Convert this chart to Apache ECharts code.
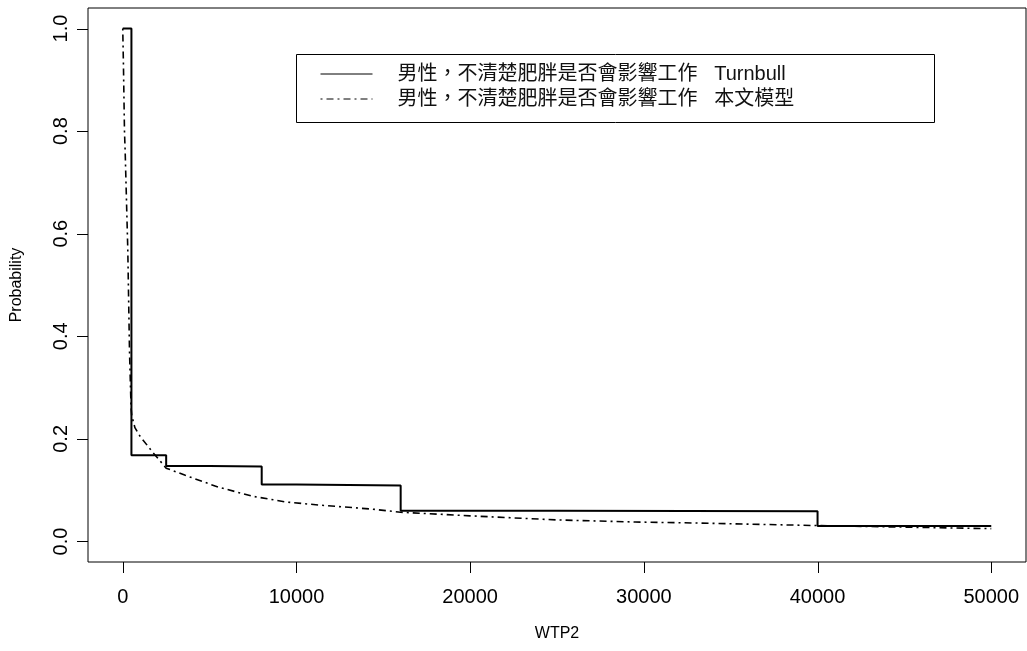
<!DOCTYPE html>
<html>
<head>
<meta charset="utf-8">
<script src="https://cdn.jsdelivr.net/npm/echarts@6/dist/echarts.min.js"></script>
<style>
html,body{margin:0;padding:0;background:#fff;}
#chart{width:1027px;height:651px;}
</style>
</head>
<body>
<div id="chart"></div>
<script>
// ---- data ----
var xTicks = [0, 10000, 20000, 30000, 40000, 50000];
var yTicks = [0, 0.2, 0.4, 0.6, 0.8, 1.0];

var turnbullName = '男性，不清楚肥胖是否會影響工作   Turnbull';
var turnbullX = [0, 500, 2500, 5000, 8000, 10000, 16000, 25000, 40000, 50000];
var turnbullY = [1.0, 0.168, 0.147, 0.146, 0.111, 0.109, 0.060, 0.059, 0.030, 0.030];

var modelName = '男性，不清楚肥胖是否會影響工作   本文模型';
var modelX = [0, 40, 100, 140, 290, 390, 480, 520, 700, 1000, 1700, 2500, 3600, 5500, 7500, 9400, 11300, 14400, 16000, 20000, 25000, 29500, 33000, 40000, 50000];
var modelY = [1.0, 0.93, 0.80, 0.76, 0.57, 0.37, 0.26, 0.245, 0.222, 0.205, 0.175, 0.143, 0.129, 0.106, 0.088, 0.077, 0.071, 0.063, 0.057, 0.050, 0.042, 0.038, 0.036, 0.031, 0.025];

function pairs(xs, ys) { return xs.map(function (x, i) { return [x, ys[i]]; }); }

var latin = "'Liberation Sans', Arial, 'Noto Sans CJK TC', sans-serif";
var dashDot = [2, 4, 7, 4];
var hiddenSymbol = {color: 'rgba(0,0,0,0)', borderColor: 'rgba(0,0,0,0)', borderWidth: 0, opacity: 0};
var gridBox = {left: 88, right: 1, top: 8, bottom: 89};
var xRange = {min: -2000, max: 52000};
var yRange = {min: -0.04, max: 1.04};
var tickLen = 11;
var W = 1027, H = 651;

var chart = echarts.init(document.getElementById('chart'), null, {renderer: 'canvas'});
chart.setOption({
  animation: false,
  backgroundColor: '#fff',
  grid: {left: gridBox.left, right: gridBox.right, top: gridBox.top, bottom: gridBox.bottom,
    show: true, borderColor: '#000', borderWidth: 1, backgroundColor: 'transparent'},
  xAxis: {
    type: 'value', min: xRange.min, max: xRange.max,
    name: 'WTP2', nameLocation: 'middle', nameGap: 64,
    nameTextStyle: {fontFamily: latin, fontSize: 16, color: '#000'},
    axisLine: {show: false, onZero: false},
    splitLine: {show: false},
    axisTick: {show: false},
    axisLabel: {show: true, customValues: xTicks, margin: 25, fontFamily: latin, fontSize: 20, color: '#000',
      formatter: function (v) { return String(v); }}
  },
  yAxis: {
    type: 'value', min: yRange.min, max: yRange.max,
    name: 'Probability', nameLocation: 'middle', nameGap: 63,
    nameTextStyle: {fontFamily: latin, fontSize: 16, color: '#000'},
    axisLine: {show: false, onZero: false},
    splitLine: {show: false},
    axisTick: {show: false},
    axisLabel: {show: true, customValues: yTicks, rotate: 90, margin: 17, fontFamily: latin, fontSize: 20, color: '#000',
      formatter: function (v) { return v.toFixed(1); }}
  },
  legend: {
    orient: 'vertical', left: 320, top: 62, padding: 0,
    itemWidth: 52, itemHeight: 14, itemGap: 1,
    selectedMode: false,
    itemStyle: hiddenSymbol,
    textStyle: {fontFamily: latin, fontSize: 20, lineHeight: 20, color: '#111', padding: [4, 0, 0, 20]},
    data: [
      {name: turnbullName, itemStyle: hiddenSymbol, lineStyle: {width: 1, color: '#000', type: 'solid'}},
      {name: modelName, itemStyle: hiddenSymbol, lineStyle: {width: 1, color: '#000', type: dashDot}}
    ]
  },
  series: [
    {
      name: turnbullName, type: 'line', step: 'end', symbol: 'none',
      data: pairs(turnbullX, turnbullY),
      lineStyle: {color: '#000', width: 2, type: 'solid'},
      itemStyle: {color: '#000'}
    },
    {
      name: modelName, type: 'line', symbol: 'none', smooth: false,
      data: pairs(modelX, modelY),
      lineStyle: {color: '#000', width: 1.6, type: dashDot},
      itemStyle: {color: '#000'}
    }
  ]
});

// Axis ticks (outside the plot box, R style), positioned through the chart's scale
var plotW = W - gridBox.left - gridBox.right;
var plotH = H - gridBox.top - gridBox.bottom;
function xPix(v) {
  var p = null;
  try { p = chart.convertToPixel({gridIndex: 0}, [v, 0]); } catch (e) { p = null; }
  if (p && isFinite(p[0])) return p[0];
  return gridBox.left + (v - xRange.min) / (xRange.max - xRange.min) * plotW;
}
function yPix(v) {
  var p = null;
  try { p = chart.convertToPixel({gridIndex: 0}, [0, v]); } catch (e) { p = null; }
  if (p && isFinite(p[1])) return p[1];
  return gridBox.top + (yRange.max - v) / (yRange.max - yRange.min) * plotH;
}
var bottomY = H - gridBox.bottom;
var leftX = gridBox.left;
var tickGraphics = [];
xTicks.forEach(function (v) {
  var px = Math.round(xPix(v)) + 0.5;
  tickGraphics.push({type: 'line', silent: true, z: 50,
    shape: {x1: px, y1: bottomY, x2: px, y2: bottomY + tickLen},
    style: {stroke: '#000', lineWidth: 1}});
});
yTicks.forEach(function (v) {
  var py = Math.round(yPix(v)) + 0.5;
  tickGraphics.push({type: 'line', silent: true, z: 50,
    shape: {x1: leftX - tickLen, y1: py, x2: leftX, y2: py},
    style: {stroke: '#000', lineWidth: 1}});
});
tickGraphics.push({type: 'rect', silent: true,
  shape: {x: 296.5, y: 54.5, width: 638, height: 68},
  style: {fill: 'none', stroke: '#000', lineWidth: 1}});
chart.setOption({graphic: tickGraphics});
</script>
</body>
</html>
